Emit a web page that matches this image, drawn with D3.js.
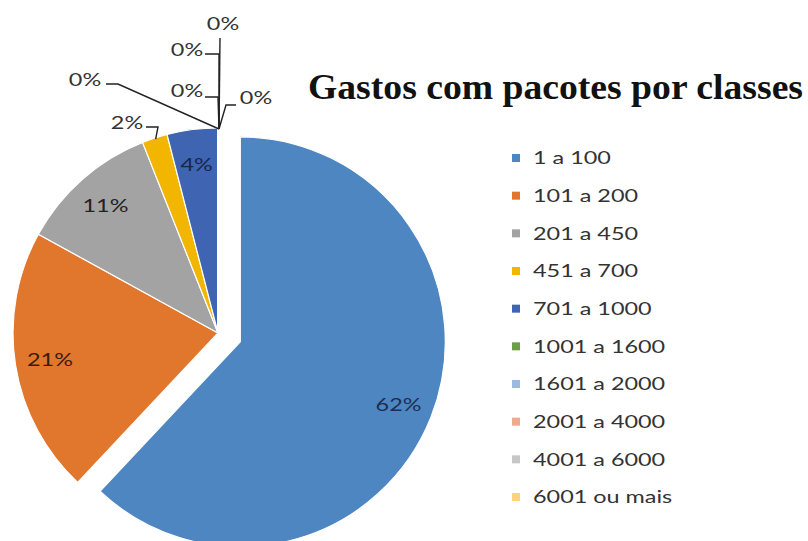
<!DOCTYPE html>
<html>
<head>
<meta charset="utf-8">
<script src="https://cdn.jsdelivr.net/npm/d3@7"></script>
<style>
  body { margin: 0; background: #fff; }
  svg { display: block; }
</style>
</head>
<body>
<div class="chart"></div>
<script>
var width = 808, height = 541;

// data
var categories = ["1 a 100", "101 a 200", "201 a 450", "451 a 700", "701 a 1000",
                  "1001 a 1600", "1601 a 2000", "2001 a 4000", "4001 a 6000", "6001 ou mais"];
var values = [62, 21, 11, 2, 4, 0, 0, 0, 0, 0];
var labels = ["62%", "21%", "11%", "2%", "4%", "0%", "0%", "0%", "0%", "0%"];
var colors = ["#4e86c2", "#e1762d", "#a3a3a3", "#f2b600", "#3e64b2",
              "#6b9e47", "#9db9de", "#f0a98b", "#c6c6c6", "#fcd37c"];
var titleText = "Gastos com pacotes por classes";

// layout for the labels that sit outside the pie (text centre, end of the short tick)
var callouts = {
  3: { tx: 127, ty: 123, ex: 146, ey: 127, kx: 158 },
  5: { tx: 85,  ty: 80,  ex: 106, ey: 84,  kx: 118 },
  6: { tx: 187, ty: 91,  ex: 205, ey: 97,  kx: 218 },
  7: { tx: 187, ty: 50,  ex: 205, ey: 54,  kx: 219 },
  8: { tx: 223, ty: 24,  ex: 220, ey: 38,  kx: 220 },
  9: { tx: 256, ty: 98,  ex: 236, ey: 105, kx: 226 }
};

var cx = 218, cy = 333, r = 205, explode = 24;
var stretch = 1.3;

var svg = d3.select(".chart").append("svg")
  .attr("width", width)
  .attr("height", height);

svg.append("rect")
  .attr("width", "100%")
  .attr("height", "100%")
  .attr("fill", "#ffffff");

var pie = d3.pie().sort(null).value(function(d) { return d; });
var arcs = pie(values);
var arc = d3.arc().innerRadius(0).outerRadius(r);

function offset(d, i) {
  if (i !== 0) return [0, 0];
  var a = (d.startAngle + d.endAngle) / 2;
  return [Math.sin(a) * explode, -Math.cos(a) * explode];
}

var g = svg.append("g").attr("transform", "translate(" + cx + "," + cy + ")");

g.selectAll("path")
  .data(arcs)
  .enter()
  .append("path")
  .attr("d", arc)
  .attr("transform", function(d, i) { var o = offset(d, i); return "translate(" + o[0] + "," + o[1] + ")"; })
  .attr("fill", function(d, i) { return colors[i]; })
  .attr("stroke", "#ffffff")
  .attr("stroke-width", 1.2);

function wideText(sel) {
  sel.each(function() {
    var len = this.getComputedTextLength();
    d3.select(this).attr("textLength", len * stretch).attr("lengthAdjust", "spacingAndGlyphs");
  });
}

// inside labels
var labelArc = d3.arc().innerRadius(r * 0.83).outerRadius(r * 0.83);
var insideColors = { 0: "#1c2f52", 1: "#3a1c0a", 2: "#222222", 4: "#17264e" };

g.selectAll("text.inside")
  .data(arcs.filter(function(d, i) { return callouts[i] === undefined; }))
  .enter()
  .append("text")
  .attr("class", "inside")
  .attr("x", function(d) { var o = offset(d, d.index); return labelArc.centroid(d)[0] + o[0]; })
  .attr("y", function(d) { var o = offset(d, d.index); return labelArc.centroid(d)[1] + o[1]; })
  .attr("dy", "0.36em")
  .attr("text-anchor", "middle")
  .style("font-family", "Lato, 'Open Sans', sans-serif")
  .style("font-size", "18px")
  .attr("fill", function(d) { return insideColors[d.index]; })
  .text(function(d) { return labels[d.index]; })
  .call(wideText);

// callout labels with leader lines
var edgeArc = d3.arc().innerRadius(r).outerRadius(r);
var outside = arcs.filter(function(d, i) { return callouts[i] !== undefined; });

svg.selectAll("path.leader")
  .data(outside)
  .enter()
  .append("path")
  .attr("class", "leader")
  .attr("d", function(d) {
    var c = callouts[d.index];
    var p = edgeArc.centroid(d);
    if (d.value === 0) p = [0, -r];
    return "M" + c.ex + "," + c.ey + "L" + c.kx + "," + c.ey + "L" + (cx + p[0] + 1) + "," + (cy + p[1] + 1);
  })
  .attr("fill", "none")
  .attr("stroke", "#222222")
  .attr("stroke-width", 1.4);

svg.selectAll("text.outside")
  .data(outside)
  .enter()
  .append("text")
  .attr("class", "outside")
  .attr("x", function(d) { return callouts[d.index].tx; })
  .attr("y", function(d) { return callouts[d.index].ty; })
  .attr("dy", "0.36em")
  .attr("text-anchor", "middle")
  .style("font-family", "Lato, 'Open Sans', sans-serif")
  .style("font-size", "18px")
  .attr("fill", "#333333")
  .text(function(d) { return labels[d.index]; })
  .call(wideText);

// title
svg.append("text")
  .attr("x", 308)
  .attr("y", 99)
  .style("font-family", "'Liberation Serif', 'Times New Roman', serif")
  .style("font-weight", "bold")
  .style("font-size", "36px")
  .attr("fill", "#111111")
  .attr("textLength", 495)
  .attr("lengthAdjust", "spacingAndGlyphs")
  .text(titleText);

// legend
var rowY = d3.scalePoint().domain(categories).range([158, 497]);

var legend = svg.selectAll("g.legend")
  .data(categories)
  .enter()
  .append("g")
  .attr("class", "legend")
  .attr("transform", function(d) { return "translate(512," + rowY(d) + ")"; });

legend.append("rect")
  .attr("x", 0)
  .attr("y", -4)
  .attr("width", 8)
  .attr("height", 8)
  .attr("fill", function(d, i) { return colors[i]; });

legend.append("text")
  .attr("x", 21)
  .attr("dy", "0.36em")
  .style("font-family", "Lato, 'Open Sans', sans-serif")
  .style("font-size", "18px")
  .attr("fill", "#333333")
  .text(function(d) { return d; })
  .call(wideText);
</script>
</body>
</html>
